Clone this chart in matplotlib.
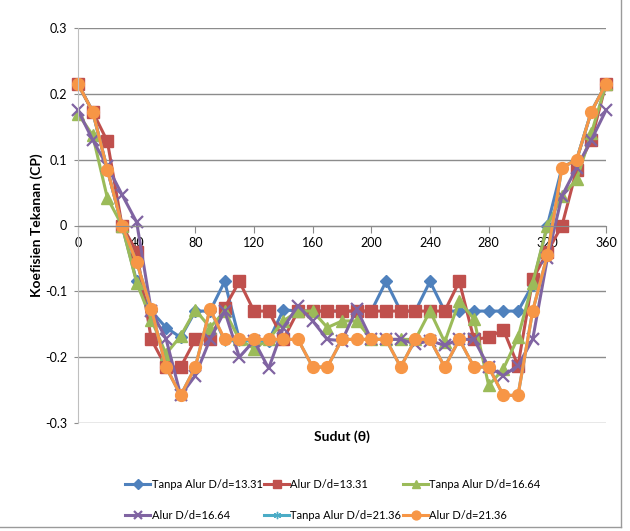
import matplotlib
matplotlib.use("Agg")
import matplotlib.pyplot as plt
from matplotlib.lines import Line2D

plt.rcParams['font.family'] = ['Lato', 'DejaVu Sans']

angles = [0, 10, 20, 30, 40, 50, 60, 70, 80, 90, 100, 110, 120, 130, 140, 150, 160, 170, 180,
          190, 200, 210, 220, 230, 240, 250, 260, 270, 280, 290, 300, 310, 320, 330, 340, 350, 360]

tanpa_13_31 = [0.215, 0.173, 0.085, 0.0, -0.085, -0.13, -0.155, -0.17, -0.13, -0.13, -0.085, -0.173,
               -0.175, -0.175, -0.128, -0.13, -0.13, -0.13, -0.13, -0.13, -0.13, -0.085, -0.13, -0.13,
               -0.085, -0.13, -0.13, -0.13, -0.13, -0.13, -0.13, -0.09, 0.0, 0.088, 0.1, 0.173, 0.215]
alur_13_31 = [0.215, 0.173, 0.128, 0.0, -0.04, -0.173, -0.215, -0.215, -0.173, -0.173, -0.125, -0.085,
              -0.13, -0.13, -0.173, -0.13, -0.13, -0.13, -0.13, -0.13, -0.13, -0.13, -0.13, -0.13,
              -0.13, -0.13, -0.085, -0.173, -0.17, -0.158, -0.213, -0.082, -0.04, 0.0, 0.085, 0.13, 0.215]
tanpa_16_64 = [0.17, 0.137, 0.042, 0.0, -0.087, -0.143, -0.195, -0.168, -0.128, -0.155, -0.13, -0.173,
               -0.187, -0.173, -0.145, -0.13, -0.13, -0.155, -0.145, -0.145, -0.173, -0.173, -0.173, -0.173,
               -0.13, -0.177, -0.115, -0.142, -0.243, -0.218, -0.17, -0.087, 0.0, 0.045, 0.07, 0.14, 0.215]
alur_16_64 = [0.175, 0.13, 0.09, 0.047, 0.005, -0.13, -0.172, -0.258, -0.228, -0.173, -0.13, -0.2,
              -0.175, -0.217, -0.155, -0.122, -0.145, -0.173, -0.175, -0.127, -0.173, -0.173, -0.173, -0.18,
              -0.175, -0.182, -0.173, -0.173, -0.215, -0.228, -0.213, -0.173, -0.05, 0.045, 0.088, 0.13, 0.175]
tanpa_21_36 = [0.215, 0.173, 0.085, 0.0, -0.056, -0.127, -0.215, -0.258, -0.215, -0.127, -0.175, -0.175,
               -0.175, -0.175, -0.173, -0.173, -0.215, -0.215, -0.173, -0.173, -0.173, -0.173, -0.215, -0.173,
               -0.173, -0.215, -0.173, -0.215, -0.215, -0.258, -0.258, -0.13, -0.045, 0.088, 0.1, 0.173, 0.215]
alur_21_36 = [0.215, 0.173, 0.085, 0.0, -0.056, -0.127, -0.215, -0.258, -0.215, -0.127, -0.173, -0.173,
              -0.173, -0.173, -0.173, -0.173, -0.215, -0.215, -0.173, -0.173, -0.173, -0.173, -0.215, -0.173,
              -0.173, -0.215, -0.173, -0.215, -0.215, -0.258, -0.258, -0.13, -0.045, 0.088, 0.1, 0.173, 0.215]

series_labels = ["Tanpa Alur D/d=13.31", "Alur D/d=13.31", "Tanpa Alur D/d=16.64",
                 "Alur D/d=16.64", "Tanpa Alur D/d=21.36", "Alur D/d=21.36"]
series_values = [tanpa_13_31, alur_13_31, tanpa_16_64, alur_16_64, tanpa_21_36, alur_21_36]

x_ticks = [0, 40, 80, 120, 160, 200, 240, 280, 320, 360]
y_ticks = [-0.3, -0.2, -0.1, 0.0, 0.1, 0.2, 0.3]
y_ticklabels = ["-0.3", "-0.2", "-0.1", "0", "0.1", "0.2", "0.3"]
x_title = "Sudut (θ)"
y_title = "Koefisien Tekanan (CP)"

colors = ["#4F81BD", "#C0504D", "#9BBB59", "#8064A2", "#4BACC6", "#F79646"]
markers = ["D", "s", "^", "x", (6, 2, 0), "o"]
msizes = [6.5, 8, 8, 8.5, 7, 8.5]
mews = [1, 1, 1, 1.6, 1, 1]

W, H = 630, 531
fig = plt.figure(figsize=(W / 100, H / 100), dpi=100)
ax = fig.add_axes([78 / W, 1 - 423 / H, (606 - 78) / W, (423 - 28) / H])

handles = []
for vals, lab, c, m, ms, mew in zip(series_values, series_labels, colors, markers, msizes, mews):
    ln, = ax.plot(angles, vals, color=c, lw=2.2, marker=m, ms=ms, mec=c, mfc=c, mew=mew,
                  label=lab, clip_on=False, solid_joinstyle='round')
    handles.append(ln)

ax.set_xlim(0, 360)
ax.set_ylim(-0.3, 0.3)
ax.set_xticks(x_ticks)
ax.set_yticks(y_ticks)
ax.set_yticklabels(y_ticklabels)
ax.yaxis.grid(True, color="#8c8c8c", lw=1)
ax.set_axisbelow(True)

for s in ["top", "right"]:
    ax.spines[s].set_visible(False)
ax.spines["bottom"].set_position(("data", 0))
ax.spines["bottom"].set_color("#8c8c8c")
ax.spines["left"].set_color("#bfbfbf")
ax.tick_params(axis="x", direction="out", length=5, color="#8c8c8c", labelsize=9, pad=3)
ax.tick_params(axis="y", direction="out", length=3, color="#8c8c8c", labelsize=9, pad=5)

ax.text(0.5, -0.035, x_title, transform=ax.transAxes, ha="center", va="center",
        fontsize=10, fontweight="bold")
ax.text(-0.078, 0.5, y_title, transform=ax.transAxes, ha="center", va="center",
        rotation=90, fontsize=10, fontweight="bold")

order = [0, 3, 1, 4, 2, 5]
leg = fig.legend([handles[i] for i in order], [series_labels[i] for i in order],
                 ncol=3, loc="center left", bbox_to_anchor=(121 / W, 1 - 500 / H),
                 frameon=False, prop={'size': 8.0},
                 handlelength=2.25, handletextpad=0.1,
                 columnspacing=0.15, labelspacing=1.75, markerscale=0.75, borderaxespad=0)

# chart area border (right and bottom)
fig.add_artist(Line2D([621 / W, 621 / W], [1 - 527 / H, 1.0], transform=fig.transFigure,
                      color="#9a9a9a", lw=1))
fig.add_artist(Line2D([0, 621 / W], [1 - 527 / H, 1 - 527 / H], transform=fig.transFigure,
                      color="#9a9a9a", lw=1))

fig.savefig("out.png", dpi=100)
